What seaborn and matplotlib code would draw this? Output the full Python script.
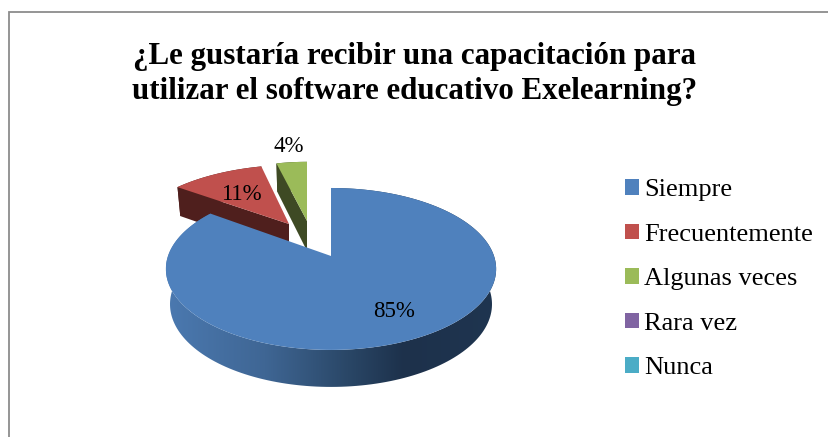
import numpy as np
import matplotlib
matplotlib.use("Agg")
import matplotlib.pyplot as plt
from matplotlib.patches import Patch, Polygon
from matplotlib.colors import LinearSegmentedColormap
import seaborn as sns

categories = ["Siempre", "Frecuentemente", "Algunas veces", "Rara vez", "Nunca"]
values = [85, 11, 4, 0, 0]
labels = ["85%", "11%", "4%"]
colors = ["#4F81BD", "#C0504D", "#9BBB59", "#8064A2", "#4BACC6"]
side_colors = ["#1F3550", "#4F1F1D", "#3E4A24"]
title = "¿Le gustaría recibir una capacitación para\nutilizar el software educativo Exelearning?"

sns.set_theme(style="white")
plt.rcParams["font.family"] = ["Liberation Serif", "DejaVu Serif"]

fig = plt.figure(figsize=(8.29, 4.37), dpi=100)
ax = fig.add_axes([0, 0, 1, 1])
ax.set_xlim(0, 829)
ax.set_ylim(437, 0)
ax.axis("off")

# pie shape: perspective projection of a tilted disc
AX, AY, K = 163.0, 78.9, 0.16
tips = [(331, 256), (289, 224), (307, 221)]
scales_x = [1.0, 0.9565, 0.87]
scales_y = [1.0, 0.87, 0.87]
shears = [0.0, -0.1026, 0.0]
depths = [34.9, 30.0, 30.0]
label_pos = [(394, 311.5), (241, 194), (289, 146.5)]


def outer(i, a):
    u, v = np.sin(a), np.cos(a)
    w = 1 + K * v
    dy = scales_y[i] * AY * v / w
    return tips[i][0] + scales_x[i] * AX * u / w - shears[i] * dy, tips[i][1] - dy


def lower(tip, depth, x, y, v):
    return tip[0] + (x - tip[0]) * 0.975, y + depth * (1 - 0.06 * v)


edges = np.cumsum([0] + values) / sum(values) * 2 * np.pi

for i in [1, 2, 0]:
    a = np.linspace(edges[i], edges[i + 1], 200)
    tip, d = tips[i], depths[i]
    x, y = outer(i, a)
    xb, yb = lower(tip, d, x, y, np.cos(a))
    tbx, tby = tip[0] + (1 if i == 0 else 0), tip[1] + d
    # side wall
    wall = np.r_[np.c_[x, y], np.c_[xb, yb][::-1]]
    if i == 0:
        cmap = LinearSegmentedColormap.from_list(
            "wall", [(0, "#4B79B0"), (0.3, "#3F6694"), (0.55, "#2A4767"),
                     (0.72, "#1D314B"), (1, "#1F3550")])
        poly = Polygon(wall, closed=True, fc="none", ec="none")
        ax.add_patch(poly)
        grad = np.linspace(0, 1, 256)[None, :]
        im = ax.imshow(grad, cmap=cmap, aspect="auto", zorder=3,
                       extent=(x.min(), x.max(), yb.max(), y.min()))
        im.set_clip_path(poly)
        ax.set_xlim(0, 829)
        ax.set_ylim(437, 0)
        # thin visible cut face
        ax.fill([tip[0], x[0], xb[0] + 1, tbx], [tip[1], y[0], yb[0], tby],
                color=side_colors[0], lw=0, zorder=3)
    else:
        z = 1 + i * 0.5 if i == 2 else 1
        ax.fill(wall[:, 0], wall[:, 1], color=side_colors[i], lw=0, zorder=z)
        # cut face toward the viewer
        ax.fill([tip[0], x[0], xb[0], tbx], [tip[1], y[0], yb[0], tby],
                color=side_colors[i], lw=0, zorder=z)
    z = 4 if i == 0 else (1.5 if i == 1 else 2.5)
    ax.fill(np.r_[tip[0], x], np.r_[tip[1], y], color=colors[i], lw=0, zorder=z)
    ax.text(*label_pos[i], labels[i], fontsize=16.5, color="black",
            ha="center", va="center", zorder=6)

# chart frame: only the left and top edges fall inside the picture
ax.plot([9, 9, 829], [437, 12, 12], color="#8C8C8C", lw=1.3, zorder=0,
        solid_joinstyle="miter")

ax.text(415, 74, title, fontsize=22.3, fontweight="bold", color="black",
        ha="center", va="center", linespacing=1.27, zorder=6)

handles = [Patch(fc=c, ec="none") for c in colors]
ax.legend(handles, categories, loc="upper left", bbox_to_anchor=(625, 179),
          bbox_transform=ax.transData, frameon=False, fontsize=19,
          handlelength=0.53, handleheight=0.53, handletextpad=0.2,
          labelspacing=0.85, borderpad=0, borderaxespad=0, labelcolor="black")

fig.savefig("out.png", dpi=100)
